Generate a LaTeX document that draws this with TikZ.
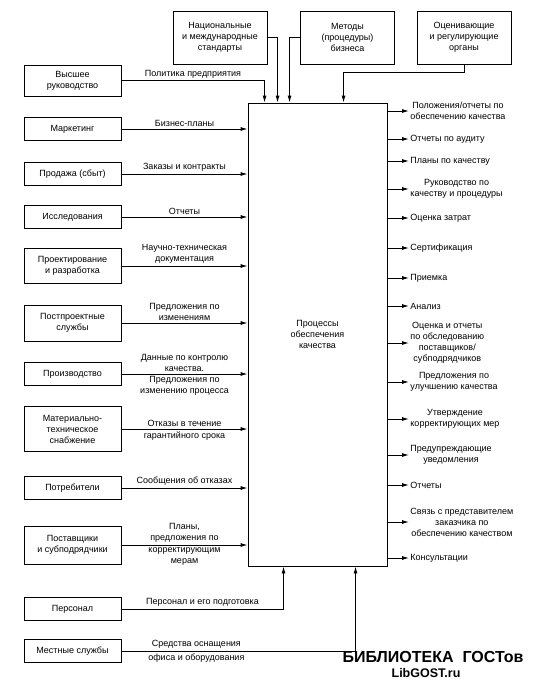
\documentclass[tikz,border=0pt]{standalone}
\usepackage{fontspec}
\setmainfont{Liberation Sans}
\usepackage{tikz}
\usetikzlibrary{arrows,arrows.meta}
\usetikzlibrary{calc}
\usetikzlibrary{positioning}

\begin{document}
\begin{tikzpicture}[x=1pt,y=-1pt,->,>={Latex[length=7pt,width=4pt]},line width=0.9pt,
  main node/.style={rectangle,draw,-,align=center,font=\fontsize{9}{11}\selectfont,inner sep=2pt},
  unit node/.style={main node,minimum width=97pt,minimum height=23pt},
  src node/.style={main node,minimum width=94pt,minimum height=53pt},
  flow/.style={font=\fontsize{9}{11}\selectfont,align=center,inner sep=2pt},
  out node/.style={flow,anchor=west,inner xsep=1pt}]

    \useasboundingbox (0,0) rectangle (533,680);

    \node[main node,minimum width=139pt,minimum height=463pt] (qa) at (317.5,334.5) {Процессы\\обеспечения\\качества};

    \node[src node] (standards) at (220,37.5) {Национальные\\и международные\\стандарты};
    \node[src node,on grid,right=127.5pt of standards] (methods) {Методы\\(процедуры)\\бизнеса};
    \node[src node,on grid,right=116.5pt of methods] (bodies) {Оценивающие\\и регулирующие\\органы};

    \node[unit node,minimum height=31pt] (management) at (72.5,80.5) {Высшее\\руководство};
    \node[unit node,on grid,below=48.5pt of management] (marketing) {Маркетинг};
    \node[unit node,on grid,below=45pt of marketing] (sales) {Продажа (сбыт)};
    \node[unit node,on grid,below=43pt of sales] (research) {Исследования};
    \node[unit node,minimum height=35pt,on grid,below=49pt of research] (design) {Проектирование\\и разработка};
    \node[unit node,minimum height=36pt,on grid,below=57pt of design] (after-sales) {Постпроектные\\службы};
    \node[unit node,on grid,below=51pt of after-sales] (production) {Производство};
    \node[unit node,minimum height=45pt,on grid,below=55pt of production] (supply) {Материально-\\техническое\\снабжение};
    \node[unit node,on grid,below=59pt of supply] (customers) {Потребители};
    \node[unit node,minimum height=38pt,on grid,below=57pt of customers] (suppliers) {Поставщики\\и субподрядчики};
    \node[unit node,on grid,below=64pt of suppliers] (staff) {Персонал};
    \node[unit node,on grid,below=42pt of staff] (local) {Местные службы};

    \node[out node] (qa-reports) at (409,111) {Положения/отчеты по\\обеспечению качества};
    \node[out node] (audit) at (409,139) {Отчеты по аудиту};
    \node[out node] (plans) at (409,161) {Планы по качеству};
    \node[out node] (manual) at (409,189) {Руководство по\\качеству и процедуры};
    \node[out node] (costs) at (409,218) {Оценка затрат};
    \node[out node] (cert) at (409,248) {Сертификация};
    \node[out node] (acceptance) at (409,278) {Приемка};
    \node[out node] (analysis) at (409,306) {Анализ};
    \node[out node] (vendor-eval) at (409,343) {Оценка и отчеты\\по обследованию\\поставщиков/\\субподрядчиков};
    \node[out node] (improvement) at (409,382) {Предложения по\\улучшению качества};
    \node[out node] (corrective) at (409,419) {Утверждение\\корректирующих мер};
    \node[out node] (warnings) at (409,455) {Предупреждающие\\уведомления};
    \node[out node] (reports) at (409,485) {Отчеты};
    \node[out node] (liaison) at (409,522) {Связь с представителем\\заказчика по\\обеспечению качеством};
    \node[out node] (consulting) at (409,558) {Консультации};

    \coordinate (in-policy) at ($(qa.north west)+(17,0)$);
    \coordinate (in-standards) at ($(qa.north west)+(30,0)$);
    \coordinate (in-methods) at ($(qa.north west)+(42,0)$);
    \coordinate (in-bodies) at ($(qa.north west)+(96,0)$);
    \coordinate (in-staff) at ($(qa.south west)+(36,0)$);
    \coordinate (in-local) at ($(qa.south west)+(108,0)$);

    \path[draw] (management.east) -| node[flow,pos=0.25,above] {Политика предприятия} (in-policy);
    \path[draw] (standards.east) -| (in-standards);
    \path[draw] (methods.west) -| (in-methods);
    \path[draw] (bodies.south) -- ++(0,8) -| (in-bodies);

    \path[every node/.style={flow}]
        (marketing.east) edge node[above] {Бизнес-планы} (marketing.east -| qa.west)
        (sales.east) edge node[above] {Заказы и контракты} (sales.east -| qa.west)
        (research.east) edge node[above] {Отчеты} (research.east -| qa.west)
        (design.east) edge node[above] {Научно-техническая\\документация} (design.east -| qa.west)
        (after-sales.east) edge node[above] {Предложения по\\изменениям} (after-sales.east -| qa.west)
        (production.east) edge node[above] {Данные по контролю\\качества.} node[below] {Предложения по\\изменению процесса} (production.east -| qa.west)
        (supply.east) edge node[above] {Отказы в течение} node[below] {гарантийного срока} (supply.east -| qa.west)
        (customers.east) edge node[above] {Сообщения об отказах} (customers.east -| qa.west)
        (suppliers.east) edge node[above] {Планы,\\предложения по} node[below] {корректирующим\\мерам} (suppliers.east -| qa.west);

    \path[draw] (staff.east) -| node[flow,pos=0.25,above] {Персонал и его подготовка} (in-staff);
    \path[draw] (local.east) -| node[flow,pos=0.16,above] {Средства оснащения} node[flow,pos=0.16,below] {офиса и оборудования} (in-local);

    \path
        (qa.east |- qa-reports.west) edge (qa-reports.west)
        (qa.east |- audit.west) edge (audit.west)
        (qa.east |- plans.west) edge (plans.west)
        (qa.east |- manual.west) edge (manual.west)
        (qa.east |- costs.west) edge (costs.west)
        (qa.east |- cert.west) edge (cert.west)
        (qa.east |- acceptance.west) edge (acceptance.west)
        (qa.east |- analysis.west) edge (analysis.west)
        (qa.east |- vendor-eval.west) edge (vendor-eval.west)
        (qa.east |- improvement.west) edge (improvement.west)
        (qa.east |- corrective.west) edge (corrective.west)
        (qa.east |- warnings.west) edge (warnings.west)
        (qa.east |- reports.west) edge (reports.west)
        (qa.east |- liaison.west) edge (liaison.west)
        (qa.east |- consulting.west) edge (consulting.west);

    \node[font=\bfseries\fontsize{16}{16}\selectfont,inner sep=0pt] (lib-name) at (433,657) {БИБЛИОТЕКА\ \ ГОСТов};
    \node[font=\bfseries\fontsize{12.5}{13}\selectfont,inner sep=0pt] (lib-site) at (426,673) {LibGOST.ru};

\end{tikzpicture}
\end{document}
